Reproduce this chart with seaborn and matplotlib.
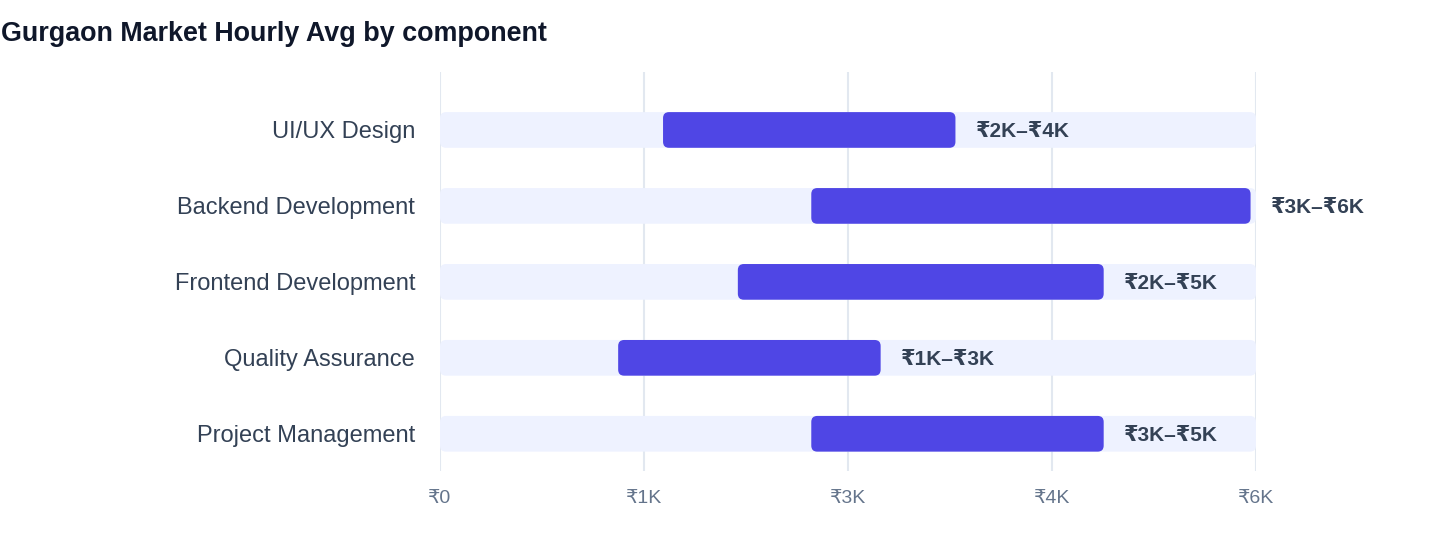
"""
Gurgaon market hourly rate ranges by component - range bar chart
"""

import numpy as np
import pandas as pd
import matplotlib
matplotlib.use("Agg")
import matplotlib.pyplot as plt
from matplotlib.patches import FancyBboxPatch
import seaborn as sns

# ============================================================================
# DATA
# ============================================================================

components = ["UI/UX Design", "Backend Development", "Frontend Development",
              "Quality Assurance", "Project Management"]
rate_low = [1640, 2730, 2190, 1310, 2730]
rate_high = [3790, 5960, 4880, 3240, 4880]
scale_max = 6000
tick_values = [0, 1500, 3000, 4500, 6000]
tick_labels = ["₹0", "₹1K", "₹3K", "₹4K", "₹6K"]

# ============================================================================
# STYLE
# ============================================================================

BAR_COLOR = "#4F46E5"
TRACK_COLOR = "#EEF2FF"
GRID_COLOR = "#E2E8F0"
TICK_COLOR = "#64748B"
LABEL_COLOR = "#334155"
TITLE_COLOR = "#0F172A"

sns.set_theme(style="white")
plt.rcParams['font.family'] = ['Liberation Sans', 'DejaVu Sans']

df = pd.DataFrame({
    "component": components,
    "low": rate_low,
    "high": rate_high,
    "track": [scale_max] * len(components),
})

fig = plt.figure(figsize=(14.4, 5.6), dpi=100)
ax = fig.add_axes([440 / 1440, 1 - 471 / 560, 816 / 1440, 399 / 560])

# background tracks and the range bars (bars start at 0, moved to low afterwards)
sns.barplot(data=df, x="track", y="component", color=TRACK_COLOR,
            saturation=1, width=0.47, ax=ax, zorder=2)
n_track = len(ax.patches)
sns.barplot(data=df, x="high", y="component", color=BAR_COLOR,
            saturation=1, width=0.47, ax=ax, zorder=3)

ax.set_xlim(0, scale_max)
ax.set_ylim(4.49, -0.763)

# pixel -> data conversions for rounded corners
px_x = scale_max / 816
px_y = (4.49 + 0.763) / 399
radius_px = 6

patches = list(ax.patches)
for i, p in enumerate(patches):
    x0, y0, w, h = p.get_x(), p.get_y(), p.get_width(), p.get_height()
    if i >= n_track:
        row = i - n_track
        x0 = df["low"][row]
        w = df["high"][row] - df["low"][row]
    p.remove()
    rounded = FancyBboxPatch(
        (x0, y0), w, h,
        boxstyle=f"round,pad=0,rounding_size={radius_px * px_x}",
        mutation_aspect=px_y / px_x,
        facecolor=p.get_facecolor(), edgecolor="none",
        zorder=2 if i < n_track else 3)
    ax.add_patch(rounded)

# value labels
for row, (lo, hi) in enumerate(zip(rate_low, rate_high)):
    ax.annotate(f"₹{round(lo / 1000)}K–₹{round(hi / 1000)}K",
                xy=(hi, row), xytext=(14.5, 0), textcoords="offset points",
                ha="left", va="center_baseline", fontsize=15, fontweight="bold",
                color=LABEL_COLOR, zorder=4)

# axes styling
ax.set_xticks(tick_values)
ax.set_xticklabels(tick_labels)
ax.grid(axis="x", color=GRID_COLOR, linewidth=1.5, zorder=0)
ax.set_axisbelow(True)
ax.tick_params(axis="x", length=0, pad=14, labelsize=14, labelcolor=TICK_COLOR)
ax.tick_params(axis="y", length=0, pad=18, labelsize=17, labelcolor=LABEL_COLOR)
ax.set_xlabel("")
ax.set_ylabel("")
for spine in ax.spines.values():
    spine.set_visible(False)

fig.text(1 / 1440, 1 - 31 / 560, "Gurgaon Market Hourly Avg by component",
         ha="left", va="center_baseline", fontsize=19.4, fontweight="bold",
         color=TITLE_COLOR)

fig.savefig("out.png", dpi=100)
